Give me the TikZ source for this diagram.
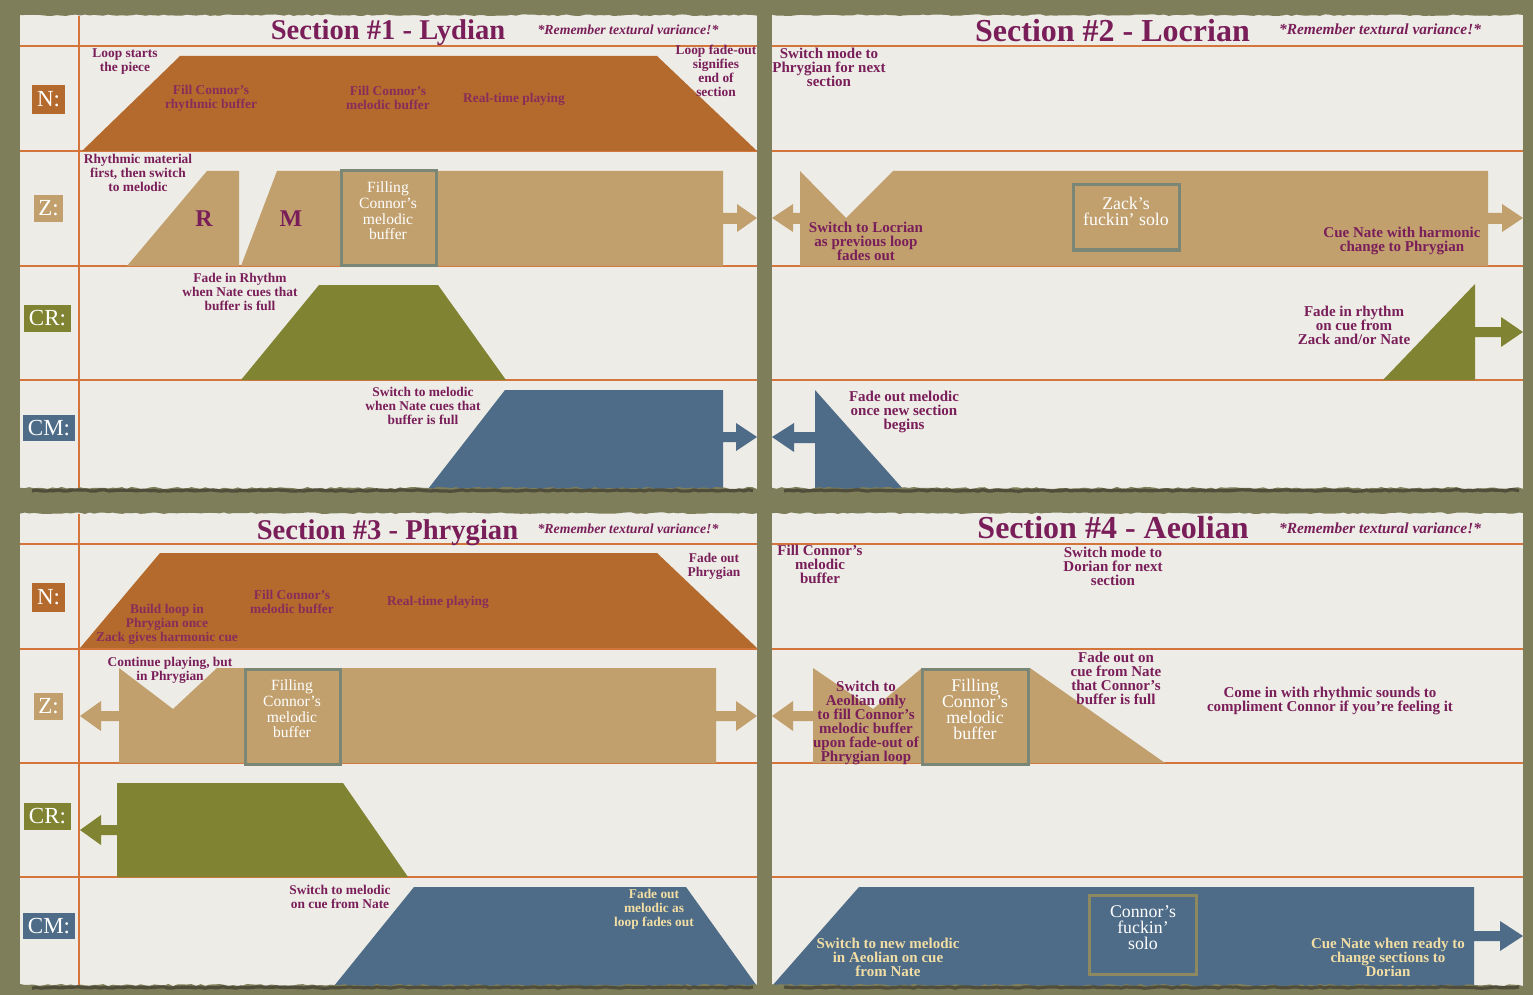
\documentclass[tikz,border=0pt]{standalone}
\usepackage{fontspec}
\setmainfont{Liberation Serif}
\definecolor{bg}{RGB}{126,126,90}
\definecolor{paper}{RGB}{237,236,230}
\definecolor{lineor}{RGB}{212,118,60}
\definecolor{cN}{RGB}{181,106,45}
\definecolor{cZ}{RGB}{193,160,110}
\definecolor{cR}{RGB}{128,132,50}
\definecolor{cM}{RGB}{78,108,135}
\definecolor{txt}{RGB}{122,30,90}
\definecolor{txtin}{RGB}{135,45,90}
\definecolor{crm}{RGB}{242,222,165}
\definecolor{boxgr}{RGB}{122,135,118}
\definecolor{boxol}{RGB}{140,136,96}
\definecolor{shadowc}{RGB}{80,78,58}
\tikzset{
  note/.style={font=\bfseries\fontsize{6.7}{7}\selectfont, text=txt, align=center, inner sep=0pt},
  innote/.style={note, text=txtin},
  creamnote/.style={note, text=crm},
  noteB/.style={font=\bfseries\fontsize{7.5}{7}\selectfont, text=txt, align=center, inner sep=0pt},
  creamB/.style={noteB, text=crm},
  sectitle/.style={font=\bfseries\fontsize{14.3}{15}\selectfont, text=txt, inner sep=0pt, anchor=base},
  sectitleB/.style={sectitle, font=\bfseries\fontsize{16}{17}\selectfont},
  remind/.style={font=\bfseries\itshape\fontsize{6.9}{7}\selectfont, text=txt, inner sep=0pt, anchor=base},
  remindB/.style={remind, font=\bfseries\itshape\fontsize{7.7}{8}\selectfont},
  labbox/.style={text=white, font=\fontsize{11.5}{12}\selectfont, inner sep=0pt},
  boxtxt/.style={text=white, font=\fontsize{7.8}{7.8}\selectfont, align=center, inner sep=0pt},
  boxtxtB/.style={boxtxt, font=\fontsize{8.9}{8}\selectfont},
  bigletter/.style={font=\bfseries\fontsize{12}{12}\selectfont, text=txt, inner sep=0pt},
  rowline/.style={draw=lineor, line width=1pt},
  bufbox/.style={draw=boxgr, line width=1.5pt},
}
% paper sheet with a ragged top edge
\newcommand\papersheet[4]{%
  \fill[paper] (#1,#2) rectangle (#3,#4);
  \fill[bg] ({#1-2},{#2-8}) -- plot[domain=#1:#3,samples=160] (\x,{#2+1.2+0.8*rand}) -- ({#3+2},{#2-8}) -- cycle;
}
% ragged bottom edge with a dark shadow
\newcommand\paperfoot[4]{%
  \fill[bg] ({#1-2},{#4+10}) -- plot[domain=#1:#3,samples=160] (\x,{#4-1+1.1*rand}) -- ({#3+2},{#4+10}) -- cycle;
  \draw[shadowc, line width=1.6pt] plot[domain={#1+12}:{#3-4},samples=160] (\x,{#4+1.5+0.7*rand});
}
\begin{document}
\begin{tikzpicture}[x=0.5pt,y=-0.5pt]
\pgfmathsetseed{11}
\useasboundingbox (0,0) rectangle (1533,995);
\fill[bg] (0,0) rectangle (1533,995);

% ---------------- paper sheets ----------------
\papersheet{20}{14}{757}{489}
\papersheet{772}{14}{1523}{489}
\papersheet{20}{512}{757}{986}
\papersheet{772}{512}{1523}{986}

% ---------------- grid lines ----------------
\foreach \yy in {46,151,266,380} {
  \draw[rowline] (20,\yy) -- (757,\yy);
  \draw[rowline] (772,\yy) -- (1523,\yy);
}
\foreach \yy in {544,649,763,877} {
  \draw[rowline] (20,\yy) -- (757,\yy);
  \draw[rowline] (772,\yy) -- (1523,\yy);
}
\draw[rowline] (79,16) -- (79,489);
\draw[rowline] (79,514) -- (79,986);

% ---------------- row labels ----------------
\node[labbox, fill=cN, minimum width=16.5pt, minimum height=14.5pt] (lN1) at (48.5,99.5) {N:};
\node[labbox, fill=cZ, minimum width=14.5pt, minimum height=13.5pt] (lZ1) at (48.5,208.5) {Z:};
\node[labbox, fill=cR, minimum width=23.5pt, minimum height=13.5pt] (lR1) at (47.5,318.5) {CR:};
\node[labbox, fill=cM, minimum width=26pt, minimum height=13pt] (lM1) at (49,428) {CM:};
\node[labbox, fill=cN, minimum width=16.5pt, minimum height=14.5pt] (lN3) at (48.5,597.5) {N:};
\node[labbox, fill=cZ, minimum width=14.5pt, minimum height=13.5pt] (lZ3) at (48.5,706.5) {Z:};
\node[labbox, fill=cR, minimum width=23.5pt, minimum height=13.5pt] (lR3) at (47.5,816.5) {CR:};
\node[labbox, fill=cM, minimum width=26pt, minimum height=13pt] (lM3) at (49,926) {CM:};

% ================= Section 1 =================
\node[sectitle] (s1) at (388,39.5) {Section \#1 - Lydian};
\node[remind] (r1) at (628,35) {*Remember textural variance!*};
\fill[cN] (82,151) -- (180,56) -- (657,56) -- (757,151) -- cycle;
\fill[cZ] (127,266) -- (207,171) -- (239,171) -- (239,266) -- cycle;
\fill[cZ] (241,266) -- (277,171) -- (723,171) -- (723,213) -- (737,213) -- (737,204)
  -- (757,218) -- (737,232) -- (737,224) -- (723,224) -- (723,266) -- cycle;
\draw[bufbox] (341,171) rectangle (436,265);
\fill[cR] (241,380) -- (319,285) -- (438,285) -- (506,380) -- cycle;
\fill[cM] (428,489) -- (505,390) -- (723,390) -- (723,432) -- (736,432) -- (736,423)
  -- (757,437) -- (736,451) -- (736,442) -- (723,442) -- (723,489) -- cycle;

\node[note] (a1) at (125,62) {Loop starts\\the piece};
\node[innote] (a2) at (211,98) {Fill Connor’s\\rhythmic buffer};
\node[innote] (a3) at (388,98) {Fill Connor’s\\melodic buffer};
\node[innote] (a4) at (514,99) {Real-time playing};
\node[note] (a5) at (716,71) {Loop fade-out\\signifies\\end of\\section};
\node[note] (a6) at (138,173) {Rhythmic material\\first, then switch\\to melodic};
\node[bigletter] (a7) at (204,219) {R};
\node[bigletter] (a8) at (291,219) {M};
\node[boxtxt] (a9) at (388,211) {Filling\\Connor’s\\melodic\\buffer};
\node[note] (a10) at (240,292) {Fade in Rhythm\\when Nate cues that\\buffer is full};
\node[note] (a11) at (423,406) {Switch to melodic\\when Nate cues that\\buffer is full};

% ================= Section 2 =================
\node[sectitleB] (s2) at (1112.5,42) {Section \#2 - Locrian};
\node[remindB] (r2) at (1380,35) {*Remember textural variance!*};
\fill[cZ] (800,171) -- (846,218) -- (893,171) -- (1488,171) -- (1488,213) -- (1502,213)
  -- (1502,204) -- (1523,218) -- (1502,232) -- (1502,224) -- (1488,224) -- (1488,266)
  -- (800,266) -- (800,224) -- (793,224) -- (793,232) -- (772,218) -- (793,204)
  -- (793,213) -- (800,213) -- cycle;
\draw[bufbox] (1073,185) rectangle (1179,250);
\fill[cR] (1383,380) -- (1475,284) -- (1475,327) -- (1501,327) -- (1501,317) -- (1523,332)
  -- (1501,347) -- (1501,337) -- (1475,337) -- (1475,380) -- cycle;
\fill[cM] (815,390) -- (903,489) -- (815,489) -- (815,443) -- (794,443) -- (794,452)
  -- (772,437) -- (794,423) -- (794,432) -- (815,432) -- cycle;

\node[noteB] (b1) at (829,67) {Switch mode to\\Phrygian for next\\section};
\node[boxtxtB] (b2) at (1126,211) {Zack’s\\fuckin’ solo};
\node[noteB] (b3) at (866,241) {Switch to Locrian\\as previous loop\\fades out};
\node[noteB] (b4) at (1402,241) {Cue Nate with harmonic\\change to Phrygian};
\node[noteB] (b5) at (1354,325) {Fade in rhythm\\on cue from\\Zack and/or Nate};
\node[noteB] (b6) at (904,412) {Fade out melodic\\once new section\\begins};

% ================= Section 3 =================
\node[sectitle] (s3) at (387.5,539) {Section \#3 - Phrygian};
\node[remind] (r3) at (628,533) {*Remember textural variance!*};
\fill[cN] (80,648) -- (160,553) -- (657,553) -- (757,648) -- cycle;
\fill[cZ] (119,668) -- (173,709) -- (217,668) -- (716,668) -- (716,711) -- (736,711)
  -- (736,701) -- (757,716) -- (736,731) -- (736,721) -- (716,721) -- (716,763)
  -- (119,763) -- (119,721) -- (101,721) -- (101,731) -- (80,716) -- (101,701)
  -- (101,711) -- (119,711) -- cycle;
\draw[bufbox] (245,669) rectangle (340,764);
\fill[cR] (117,783) -- (343,783) -- (408,877) -- (117,877) -- (117,835) -- (101,835)
  -- (101,845) -- (80,830) -- (101,815) -- (101,825) -- (117,825) -- cycle;
\fill[cM] (334,986) -- (414,887) -- (686,887) -- (757,986) -- cycle;

\node[innote] (c1) at (167,624) {Build loop in\\Phrygian once\\Zack gives harmonic cue};
\node[innote] (c2) at (292,602) {Fill Connor’s\\melodic buffer};
\node[innote] (c3) at (438,602) {Real-time playing};
\node[note] (c4) at (714,566) {Fade out\\Phrygian};
\node[note] (c5) at (170,670) {Continue playing, but\\in Phrygian};
\node[boxtxt] (c6) at (292,709) {Filling\\Connor’s\\melodic\\buffer};
\node[note] (c7) at (340,897) {Switch to melodic\\on cue from Nate};
\node[creamnote] (c8) at (654,909) {Fade out\\melodic as\\loop fades out};

% ================= Section 4 =================
\node[sectitleB] (s4) at (1113,538) {Section \#4 - Aeolian};
\node[remindB] (r4) at (1380,533) {*Remember textural variance!*};
\fill[cZ] (813,668) -- (873,709) -- (922,668) -- (1030,668) -- (1165,763) -- (813,763)
  -- (813,721) -- (793,721) -- (793,731) -- (772,716) -- (793,701) -- (793,711)
  -- (813,711) -- cycle;
\draw[bufbox] (922,669) rectangle (1028,764);
\fill[cM] (772,986) -- (859,887) -- (1474,887) -- (1474,931) -- (1500,931) -- (1500,921)
  -- (1523,936) -- (1500,951) -- (1500,941) -- (1474,941) -- (1474,986) -- cycle;
\draw[draw=boxol, line width=1.5pt] (1089,895) rectangle (1196,974);

\node[noteB] (d1) at (820,564) {Fill Connor’s\\melodic\\buffer};
\node[noteB] (d2) at (1113,566) {Switch mode to\\Dorian for next\\section};
\node[noteB] (d3) at (866,723) {Switch to\\Aeolian only\\to fill Connor’s\\melodic buffer\\upon fade-out of\\Phrygian loop};
\node[boxtxtB] (d4) at (975,709) {Filling\\Connor’s\\melodic\\buffer};
\node[noteB] (d5) at (1116,678) {Fade out on\\cue from Nate\\that Connor’s\\buffer is full};
\node[noteB] (d6) at (1330,701) {Come in with rhythmic sounds to\\compliment Connor if you’re feeling it};
\node[boxtxtB] (d7) at (1143,928) {Connor’s\\fuckin’\\solo};
\node[creamB] (d8) at (888,957) {Switch to new melodic\\in Aeolian on cue\\from Nate};
\node[creamB] (d9) at (1388,957) {Cue Nate when ready to\\change sections to\\Dorian};

% ---------------- ragged lower edges ----------------
\paperfoot{20}{14}{757}{489}
\paperfoot{772}{14}{1523}{489}
\paperfoot{20}{512}{757}{986}
\paperfoot{772}{512}{1523}{986}
\end{tikzpicture}
\end{document}
